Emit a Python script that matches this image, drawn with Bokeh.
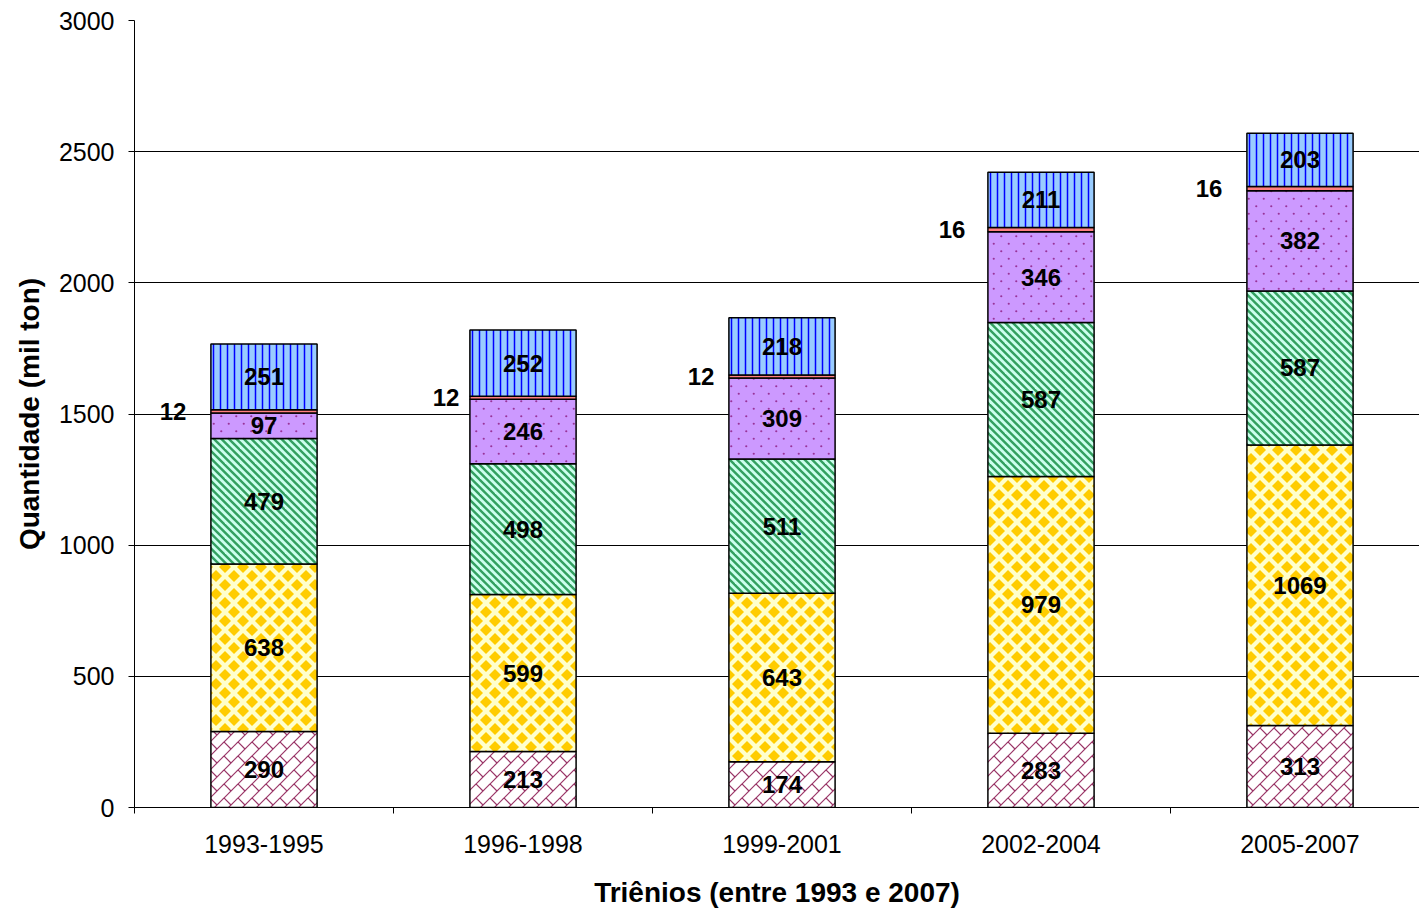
import base64
import numpy as np
from bokeh.plotting import figure
from bokeh.models import ColumnDataSource, Range1d, FixedTicker, ImageURLTexture
from bokeh.core.properties import value
from bokeh.embed import file_html
from bokeh.resources import INLINE

# ---------------- data ----------------
periods = ["1993-1995", "1996-1998", "1999-2001", "2002-2004", "2005-2007"]
serie_1 = [290, 213, 174, 283, 313]      # bottom, pink brick
serie_2 = [638, 599, 643, 979, 1069]     # yellow checker
serie_3 = [479, 498, 511, 587, 587]      # green diagonal
serie_4 = [97, 246, 309, 346, 382]       # purple dots
serie_5 = [12, 12, 12, 16, 16]           # thin red
serie_6 = [251, 252, 218, 211, 203]      # blue vertical lines
y_ticks = [0, 500, 1000, 1500, 2000, 2500, 3000]

# label offsets (px) for the thin series, drawn left of the bars
small_label_dx = [-91, -77, -81, -89, -91]

FONT = "Liberation Sans"


def uri(svg):
    return "data:image/svg+xml;base64," + base64.b64encode(svg.encode()).decode()


def svg_tile(w, h, body):
    return uri(f'<svg xmlns="http://www.w3.org/2000/svg" width="{w}" height="{h}" '
               f'viewBox="0 0 {w} {h}">{body}</svg>')


# brick pattern (maroon on white)
T = 14
brick = f'<rect width="{T}" height="{T}" fill="#FFFFFF"/>'
for c in (-T, 0, T, 2 * T, 3 * T):
    brick += (f'<line x1="{c-2*T}" y1="{2*T}" x2="{2*T}" y2="{c-2*T}" '
              f'stroke="#993366" stroke-width="1.2"/>')
for ox in (-T, 0, T):
    for oy in (-T, 0, T):
        brick += (f'<line x1="{ox}" y1="{oy}" x2="{ox+T/2}" y2="{oy+T/2}" '
                  f'stroke="#993366" stroke-width="1.2"/>')
tex_brick = svg_tile(T, T, brick)

# checker diamonds (gold on pale yellow)
chk = '<rect width="18" height="18" fill="#FFFFCC"/>'
hd = 6.0
for cx, cy in ((0, 0), (18, 0), (0, 18), (18, 18), (9, 9)):
    chk += (f'<polygon points="{cx},{cy-hd} {cx+hd},{cy} {cx},{cy+hd} {cx-hd},{cy}" '
            f'fill="#FFCC00"/>')
tex_checker = svg_tile(18, 18, chk)

# green "\" stripes
grn = '<rect width="15" height="15" fill="#CCFFEE"/>'
for c in (-15, -7.5, 0, 7.5, 15):
    grn += (f'<line x1="{-5+c}" y1="-5" x2="{20+c}" y2="20" '
            f'stroke="#33A060" stroke-width="2.4"/>')
tex_green = svg_tile(15, 15, grn)

# purple dots
dots = '<rect width="15" height="15" fill="#CC99FF"/>'
for cx, cy in ((3.75, 3.75), (11.25, 11.25)):
    dots += f'<circle cx="{cx}" cy="{cy}" r="1.1" fill="#993399"/>'
tex_dots = svg_tile(15, 15, dots)

# blue vertical lines
blu = '<rect width="7" height="7" fill="#99CCFF"/>'
blu += '<line x1="3.5" y1="-1" x2="3.5" y2="8" stroke="#0000FF" stroke-width="1.5"/>'
tex_blue = svg_tile(7, 7, blu)

styles = [
    ("brick", tex_brick, "#FFFFFF"),
    ("checker", tex_checker, "#FFFFCC"),
    ("green", tex_green, "#CCFFEE"),
    ("dots", tex_dots, "#CC99FF"),
    (None, None, "#FF8080"),
    ("blue", tex_blue, "#99CCFF"),
]

series = [serie_1, serie_2, serie_3, serie_4, serie_5, serie_6]

# ---------------- figure ----------------
p = figure(width=1419, height=910, output_backend="svg", toolbar_location=None,
           x_range=Range1d(0, 1285 / 259), y_range=Range1d(0, 3000),
           min_border_left=134, min_border_right=0, min_border_top=20,
           min_border_bottom=102)
p.outline_line_color = None
p.background_fill_color = "white"
p.border_fill_color = "white"

xs = [i + 0.5 for i in range(len(periods))]
bottom = np.zeros(len(periods))
for k, (vals, (name, tex, bg)) in enumerate(zip(series, styles)):
    vals = np.array(vals, dtype=float)
    top = bottom + vals
    src = ColumnDataSource(dict(x=xs, bottom=bottom.copy(), top=top.copy(),
                                mid=(bottom + top) / 2,
                                label=[str(int(v)) for v in vals],
                                dx=small_label_dx if k == 4 else [0] * len(xs)))
    kw = dict(x="x", width=0.41, bottom="bottom", top="top", source=src,
              fill_color=bg, line_color="black", line_width=1.5)
    if tex is not None:
        kw["hatch_pattern"] = value(name)
        kw["hatch_extra"] = {name: ImageURLTexture(url=tex)}
    p.vbar(**kw)
    p.text(x="x", y="mid", text="label", source=src, x_offset="dx",
           text_font=value(FONT), text_font_style="bold", text_font_size="24px",
           text_color="black", text_align="center", text_baseline="middle")
    bottom = top

# ---------------- axes ----------------
p.xgrid.visible = False
p.ygrid.ticker = FixedTicker(ticks=y_ticks)
p.ygrid.grid_line_color = "black"
p.ygrid.grid_line_width = 1

p.yaxis.ticker = FixedTicker(ticks=y_ticks)
p.yaxis.major_tick_out = 6
p.yaxis.major_tick_in = 0
p.yaxis.major_label_standoff = 14
p.yaxis.axis_label = "Quantidade (mil ton)"
p.yaxis.axis_label_standoff = 11

p.xaxis.ticker = FixedTicker(ticks=xs, minor_ticks=list(range(len(periods))))
p.xaxis.major_label_overrides = {x: lab for x, lab in zip(xs, periods)}
p.xaxis.major_tick_out = 0
p.xaxis.major_tick_in = 0
p.xaxis.minor_tick_out = 6
p.xaxis.minor_tick_in = 0
p.xaxis.major_label_standoff = 21
p.xaxis.axis_label = "Triênios (entre 1993 e 2007)"
p.xaxis.axis_label_standoff = 21

for ax in (p.xaxis, p.yaxis):
    ax.axis_line_color = "black"
    ax.axis_line_width = 1
    ax.major_tick_line_color = "black"
    ax.major_label_text_font = FONT
    ax.major_label_text_font_size = "25px"
    ax.major_label_text_color = "black"
    ax.axis_label_text_font = FONT
    ax.axis_label_text_font_style = "bold"
    ax.axis_label_text_font_size = "28px"
    ax.axis_label_text_color = "black"
p.xaxis.minor_tick_line_color = "black"
p.yaxis.minor_tick_line_color = None

open("out.html", "w").write(file_html(p, INLINE))
